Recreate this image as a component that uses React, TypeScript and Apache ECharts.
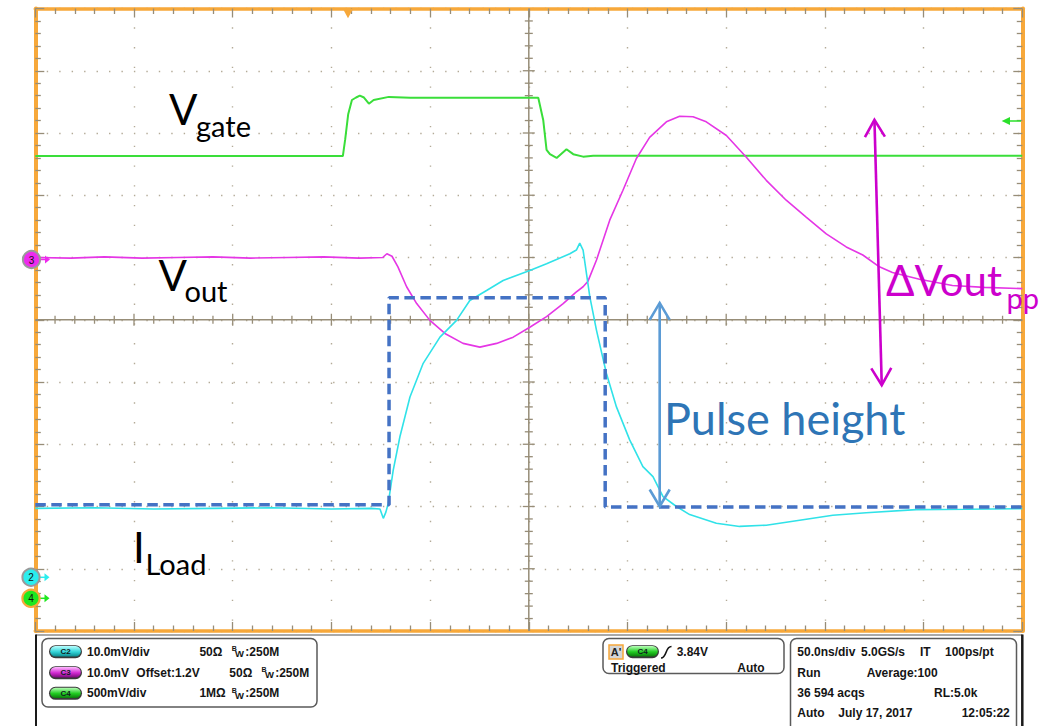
import { useEffect, useRef } from "react";
import * as echarts from "echarts";

type Pt = [number, number];

// Horizontal: time in ns (50 ns/div). Vertical: screen divisions (centre = 0).
const T_MIN = -250;
const T_MAX = 250;
const T_DIV = 50;
const T_MINOR = 10;
const V_MIN = -5;
const V_MAX = 5;
const V_DIV = 1;
const V_MINOR = 0.2;

// C4 – gate drive
const vgate: Pt[] = [
  [-250, 2.63], [-94.2, 2.63], [-93.0, 2.9], [-91.5, 3.3], [-89.6, 3.53], [-87.5, 3.57],
  [-85.6, 3.6], [-83.5, 3.57], [-81.0, 3.47], [-78.6, 3.53], [-70.9, 3.58], [-60, 3.565],
  [4.8, 3.565], [7.3, 3.21], [9.0, 2.73], [10.7, 2.66], [14.1, 2.6], [19.1, 2.74],
  [22.5, 2.66], [27.5, 2.62], [32.6, 2.635], [250, 2.635],
];

// C3 – output voltage (AC view, 10 mV/div)
const vout: Pt[] = [
  [-250, 1.0], [-232, 0.99], [-215, 1.01], [-196, 0.99], [-178, 1.0], [-160, 1.01],
  [-141, 0.99], [-122, 1.0], [-104, 1.01], [-86, 0.99], [-74, 1.0], [-71.9, 1.06],
  [-69.3, 1.02], [-66.3, 0.85], [-61.9, 0.53], [-56.8, 0.26], [-50.1, -0.01], [-42.5, -0.22],
  [-33.3, -0.38], [-24.8, -0.44], [-16.3, -0.38], [-7.9, -0.28], [0.5, -0.12], [9.0, 0.05],
  [17.4, 0.26], [23.8, 0.44], [27.5, 0.53], [30.0, 0.62], [34.3, 0.96], [41.0, 1.6],
  [47.7, 2.08], [54.5, 2.59], [61.2, 2.93], [69.7, 3.18], [76.4, 3.27], [83.2, 3.26],
  [89.9, 3.18], [100.1, 2.96], [110.2, 2.61], [120.3, 2.24], [130.4, 1.92], [140.5, 1.65],
  [150.7, 1.38], [160.8, 1.17], [169.2, 1.04], [177.6, 0.85], [184.2, 0.76], [197.9, 0.65],
  [214.6, 0.55], [230.8, 0.52], [250, 0.5],
];

// C2 – load current sense
const iload: Pt[] = [
  [-250, -3.03], [-220, -3.02], [-190, -3.04], [-160, -3.03], [-130, -3.02], [-100, -3.04],
  [-80, -3.03], [-75.4, -3.04], [-73.7, -3.19], [-72.4, -3.09], [-71.2, -2.95], [-68.7, -2.42],
  [-65.3, -1.88], [-60.2, -1.24], [-53.5, -0.7], [-45.0, -0.28], [-36.6, -0.01], [-29.9, 0.31],
  [-21.4, 0.47], [-13.0, 0.63], [0.5, 0.79], [9.0, 0.9], [20.8, 1.06], [24.1, 1.12],
  [25.8, 1.23], [27.5, 1.12], [30.9, 0.37], [34.3, -0.17], [39.3, -0.86], [44.4, -1.4],
  [51.1, -1.93], [57.8, -2.36], [62.9, -2.52], [68.0, -2.84], [74.8, -3.0], [81.5, -3.13],
  [95.0, -3.27], [106.8, -3.32], [120.3, -3.3], [137.2, -3.22], [154.0, -3.14], [170.9, -3.1],
  [196.2, -3.05], [221.5, -3.045], [250, -3.035],
];

// Ideal load step drawn over the current trace
const loadStep: Pt[] = [
  [-250, -2.97], [-70.8, -2.97], [-70.8, 0.354], [38.7, 0.354], [38.7, -3.01], [250, -3.01],
];

// Double-headed annotation arrows: [t1, v1, t2, v2]
const pulseHeightArrow = [66.3, 0.27, 66.3, -3.0];
const voutPpArrow = [175.1, 3.21, 178.8, -1.05];

const channelSettings = [
  { name: "C2", scale: "10.0mV/div", offset: "", impedance: "50Ω", bandwidth: ":250M" },
  { name: "C3", scale: "10.0mV", offset: "Offset:1.2V", impedance: "50Ω", bandwidth: ":250M" },
  { name: "C4", scale: "500mV/div", offset: "", impedance: "1MΩ", bandwidth: ":250M" },
];
const triggerLevel = "3.84V";
const triggerState = "Triggered";
const triggerMode = "Auto";
const timebase = ["50.0ns/div", "5.0GS/s", "IT", "100ps/pt"];
const acquisition = ["Run", "Average:100"];
const acqCount = ["36 594 acqs", "RL:5.0k"];
const stamp = ["Auto", "July 17, 2017", "12:05:22"];

const C = {
  gate: "#3ade3a",
  vout: "#e536e5",
  iload: "#30e2e8",
  step: "#4472c4",
  pulse: "#5b9bd5",
  pulseText: "#2e75b6",
  dv: "#cc00cc",
  orange: "#f7a83a",
  tick: "#978d78",
  dot: "#b3aa97",
  ink: "#151515",
};

const LATO = "Lato, 'Open Sans', 'DejaVu Sans', sans-serif";
const SANS = "'Liberation Sans', Arial, sans-serif";

function text(
  str: string,
  x: number,
  y: number,
  font: string,
  fill = C.ink,
  align: "left" | "center" | "right" = "left",
  z = 100,
) {
  return {
    type: "text",
    z,
    silent: true,
    style: {
      text: str,
      x,
      y,
      font,
      fill,
      align,
      verticalAlign: "middle",
      textAlign: align,
      textVerticalAlign: "middle",
    },
  };
}

function pill(x: number, cy: number, label: string, c0: string, c1: string, c2: string) {
  return [
    {
      type: "rect",
      z: 100,
      shape: { x, y: cy - 6.5, width: 33, height: 13, r: 6.5 },
      style: { fill: "#3a3a3a" },
    },
    {
      type: "rect",
      z: 100,
      shape: { x: x + 1.2, y: cy - 5.6, width: 30.6, height: 10.4, r: 5.2 },
      style: {
        fill: new echarts.graphic.LinearGradient(0, 0, 0, 1, [
          { offset: 0, color: c0 },
          { offset: 0.55, color: c1 },
          { offset: 1, color: c2 },
        ]),
      },
    },
    text(label, x + 16.5, cy - 0.3, `bold 8px ${SANS}`, "#102020", "center", 101),
  ];
}

function bandwidth(x: number, cy: number, rest: string) {
  return [
    text("B", x, cy - 3.2, `bold 7px ${SANS}`),
    text("W", x + 3.4, cy + 1.8, `bold 9.5px ${SANS}`),
    text(rest, x + 13.6, cy, `bold 12px ${SANS}`),
  ];
}

function marker(cx: number, cy: number, label: string, fill: string, ring: string, ringW: number) {
  return [
    {
      type: "line",
      z: 100,
      shape: { x1: cx + 8, y1: cy, x2: cx + 14, y2: cy },
      style: { stroke: fill, lineWidth: 1.5 },
    },
    {
      type: "polygon",
      z: 100,
      shape: { points: [[cx + 13.5, cy - 4], [cx + 18.5, cy], [cx + 13.5, cy + 4]] },
      style: { fill },
    },
    {
      type: "circle",
      z: 101,
      shape: { cx, cy, r: 8.6 },
      style: { fill, stroke: ring, lineWidth: ringW },
    },
    text(label, cx, cy + 0.5, `10px ${SANS}`, "#111", "center", 105),
  ];
}

function crosshair(_params: any, api: any) {
  const stroke = C.tick;
  const [xl, yc] = api.coord([T_MIN, 0]);
  const [xr] = api.coord([T_MAX, 0]);
  const [xc, yb] = api.coord([0, V_MIN]);
  const [, yt] = api.coord([0, V_MAX]);
  const children: any[] = [
    { type: "line", shape: { x1: xl, y1: yc, x2: xr, y2: yc }, style: { stroke, lineWidth: 1.5 } },
    { type: "line", shape: { x1: xc, y1: yt, x2: xc, y2: yb }, style: { stroke, lineWidth: 1.5 } },
  ];
  const nT = Math.round((T_MAX - T_MIN) / T_MINOR);
  for (let i = 1; i < nT; i++) {
    const [x] = api.coord([T_MIN + i * T_MINOR, 0]);
    const h = i % 5 === 0 ? 6 : 4;
    children.push({
      type: "line",
      shape: { x1: x, y1: yc - h, x2: x, y2: yc + h },
      style: { stroke, lineWidth: 1.3 },
    });
  }
  const nV = Math.round((V_MAX - V_MIN) / V_MINOR);
  for (let i = 1; i < nV; i++) {
    const [, y] = api.coord([0, V_MIN + i * V_MINOR]);
    const h = i % 5 === 0 ? 6 : 4;
    children.push({
      type: "line",
      shape: { x1: xc - h, y1: y, x2: xc + h, y2: y },
      style: { stroke, lineWidth: 1.3 },
    });
  }
  return { type: "group", children };
}

function doubleArrow(_params: any, api: any) {
  const p1 = api.coord([api.value(0), api.value(1)]);
  const p2 = api.coord([api.value(2), api.value(3)]);
  const color = api.visual("color");
  const dx = p2[0] - p1[0];
  const dy = p2[1] - p1[1];
  const len = Math.hypot(dx, dy) || 1;
  const ux = dx / len;
  const uy = dy / len;
  const L = 17;
  const W = 10;
  const head = (tip: number[], d: number[]) => {
    const bx = tip[0] + d[0] * L;
    const by = tip[1] + d[1] * L;
    return {
      type: "polyline",
      shape: { points: [[bx - d[1] * W, by + d[0] * W], [tip[0], tip[1]], [bx + d[1] * W, by - d[0] * W]] },
      style: { stroke: color, fill: null, lineWidth: 2.6 },
    };
  };
  return {
    type: "group",
    children: [
      { type: "line", shape: { x1: p1[0], y1: p1[1], x2: p2[0], y2: p2[1] }, style: { stroke: color, lineWidth: 2.6 } },
      head(p1, [ux, uy]),
      head(p2, [-ux, -uy]),
    ],
  };
}

function borderAxis(position: string, isY: boolean, withSplit: boolean) {
  const period = isY ? 19.74 : 12.45;
  return {
    type: "value",
    position,
    min: isY ? T_MIN : V_MIN,
    max: isY ? T_MAX : V_MAX,
    interval: isY ? T_DIV : V_DIV,
    axisLine: { show: true, onZero: false, lineStyle: { color: C.orange, width: isY ? 3.5 : 4 } },
    axisTick: { show: true, inside: true, length: 9, lineStyle: { color: C.tick, width: 1.3 } },
    minorTick: { show: true, splitNumber: 5, length: 5.5, lineStyle: { color: C.tick, width: 1.3 } },
    axisLabel: { show: false },
    splitLine: {
      show: withSplit,
      lineStyle: { color: C.dot, width: 1.4, type: [1.4, period - 1.4], dashOffset: 0.7 },
    },
  };
}

function buildGraphics() {
  const g: any[] = [];

  // Trace labels
  g.push(text("V", 169, 108.7, `42px ${LATO}`, "#000"));
  g.push(text("gate", 196, 125.8, `29px ${LATO}`, "#000"));
  g.push(text("V", 158.5, 275.4, `42px ${LATO}`, "#000"));
  g.push(text("out", 184.5, 290.5, `29px ${LATO}`, "#000"));
  g.push(text("I", 133, 547, `42px ${LATO}`, "#000"));
  g.push(text("Load", 145.5, 563.8, `29px ${LATO}`, "#000"));
  g.push(text("ΔVout", 886, 280.4, `42px ${LATO}`, C.dv));
  g.push(text("pp", 1006.5, 297.3, `29px ${LATO}`, C.dv));
  g.push(text("Pulse height", 664, 417.6, `45px ${LATO}`, C.pulseText));

  // Channel ground markers and trigger indicators
  g.push(...marker(31.5, 259.5, "3", "#ee2aee", "#9a9a9a", 2));
  g.push(...marker(31, 577.3, "2", "#2aeeee", "#9a9a9a", 2));
  g.push(...marker(31, 598.3, "4", "#1fe81f", C.orange, 2.2));
  g.push({
    type: "polygon",
    z: 100,
    shape: { points: [[343, 9], [353, 9], [348, 18.3]] },
    style: { fill: C.orange },
  });
  g.push({
    type: "line",
    z: 100,
    shape: { x1: 1009, y1: 121, x2: 1021, y2: 121 },
    style: { stroke: "#2ae02a", lineWidth: 1.5 },
  });
  g.push({
    type: "polygon",
    z: 100,
    shape: { points: [[1001.7, 121], [1010, 117], [1010, 125]] },
    style: { fill: "#2ae02a" },
  });

  // Readout frame
  g.push({ type: "line", z: 90, shape: { x1: 36, y1: 635, x2: 1022.5, y2: 635 }, style: { stroke: "#555", lineWidth: 1 } });
  g.push({ type: "line", z: 90, shape: { x1: 36, y1: 634.5, x2: 36, y2: 726 }, style: { stroke: "#1a1a1a", lineWidth: 2 } });
  g.push({ type: "line", z: 90, shape: { x1: 1022.3, y1: 634.5, x2: 1022.3, y2: 726 }, style: { stroke: "#1a1a1a", lineWidth: 2.5 } });

  const panelStyle = { fill: "#fff", stroke: "#5a5a5a", lineWidth: 1.5 };
  g.push({ type: "rect", z: 95, shape: { x: 42, y: 638.5, width: 275, height: 68.5, r: 6 }, style: panelStyle });
  g.push({ type: "rect", z: 95, shape: { x: 603, y: 638.5, width: 181, height: 35, r: 6 }, style: panelStyle });
  g.push({ type: "rect", z: 95, shape: { x: 790.5, y: 638.5, width: 226, height: 110, r: 6 }, style: panelStyle });

  // Channel settings
  const pillColors: Record<string, [string, string, string]> = {
    C2: ["#b8ffff", "#33d4d8", "#0b8a8e"],
    C3: ["#ffb8ff", "#d22ad2", "#7a0a7a"],
    C4: ["#b8ffb8", "#22cc22", "#0a7a0a"],
  };
  const rowsY = [651.7, 672.7, 693.3];
  channelSettings.forEach((ch, i) => {
    const y = rowsY[i];
    const [a, b, c] = pillColors[ch.name];
    g.push(...pill(49, y, ch.name, a, b, c));
    g.push(text(ch.scale, 87, y, `bold 12px ${SANS}`));
    if (ch.offset) g.push(text(ch.offset, 136.3, y, `bold 12px ${SANS}`));
    const ix = ch.offset ? 229.3 : 199.4;
    g.push(text(ch.impedance, ix, y, `bold 12px ${SANS}`));
    g.push(...bandwidth(ix + 32.3, y, ch.bandwidth));
  });

  // Trigger panel
  g.push({
    type: "rect",
    z: 100,
    shape: { x: 609, y: 645, width: 14, height: 14 },
    style: { fill: "#d6d6d6", stroke: C.orange, lineWidth: 1.5 },
  });
  g.push(text("A'", 616, 652.2, `bold 11px ${SANS}`, "#222", "center", 101));
  g.push(...pill(626, 651.7, "C4", ...pillColors.C4));
  g.push({
    type: "bezierCurve",
    z: 100,
    shape: { x1: 661, y1: 658, x2: 671.5, y2: 646.5, cpx1: 667, cpy1: 658, cpx2: 665, cpy2: 646.5 },
    style: { stroke: "#111", lineWidth: 1.6, fill: null },
  });
  g.push(text(triggerLevel, 676.7, 651.7, `bold 12px ${SANS}`));
  g.push(text(triggerState, 611, 668, `bold 12px ${SANS}`));
  g.push(text(triggerMode, 737.3, 668, `bold 12px ${SANS}`));

  // Timebase / acquisition panel
  const f = `bold 12px ${SANS}`;
  g.push(text(timebase[0], 797.3, 651.7, f));
  g.push(text(timebase[1], 861, 651.7, f));
  g.push(text(timebase[2], 920, 651.7, f));
  g.push(text(timebase[3], 945, 651.7, f));
  g.push(text(acquisition[0], 797.3, 672.7, f));
  g.push(text(acquisition[1], 866.7, 672.7, f));
  g.push(text(acqCount[0], 797.3, 692.7, f));
  g.push(text(acqCount[1], 934, 692.7, f));
  g.push(text(stamp[0], 797.3, 713.3, f));
  g.push(text(stamp[1], 838.3, 713.3, f));
  g.push(text(stamp[2], 961.7, 713.3, f));

  return g;
}

export default function App() {
  const ref = useRef<HTMLDivElement>(null);

  useEffect(() => {
    if (!ref.current) return;
    const chart = echarts.init(ref.current, null, { renderer: "svg" });

    const traceLine = (name: string, data: Pt[], color: string, width: number) => ({
      name,
      type: "line",
      data,
      showSymbol: false,
      symbol: "none",
      silent: true,
      z: 3,
      lineStyle: { color, width },
    });

    chart.setOption({
      animation: false,
      backgroundColor: "#ffffff",
      grid: { left: 35.3, right: 25.7, top: 8.5, bottom: 95, containLabel: false },
      xAxis: [borderAxis("bottom", true, true), borderAxis("top", true, false)],
      yAxis: [borderAxis("left", false, true), borderAxis("right", false, false)],
      series: [
        {
          name: "graticule",
          type: "custom",
          renderItem: crosshair,
          data: [[0, 0]],
          silent: true,
          clip: false,
          z: 1,
        },
        traceLine("Vgate", vgate, C.gate, 2),
        traceLine("Vout", vout, C.vout, 1.6),
        traceLine("ILoad", iload, C.iload, 1.6),
        {
          name: "load step",
          type: "line",
          data: loadStep,
          showSymbol: false,
          symbol: "none",
          silent: true,
          z: 4,
          lineStyle: { color: C.step, width: 3.5, type: [10.5, 5.5] },
        },
        {
          name: "arrows",
          type: "custom",
          renderItem: doubleArrow,
          encode: { x: [0, 2], y: [1, 3] },
          silent: true,
          clip: false,
          z: 5,
          data: [
            { value: pulseHeightArrow, itemStyle: { color: C.pulse } },
            { value: voutPpArrow, itemStyle: { color: C.dv } },
          ],
        },
      ],
      graphic: { elements: buildGraphics() },
    });

    return () => chart.dispose();
  }, []);

  return (
    <div
      ref={ref}
      style={{ position: "absolute", left: 0, top: 0, width: 1048, height: 726, background: "#fff" }}
    />
  );
}
